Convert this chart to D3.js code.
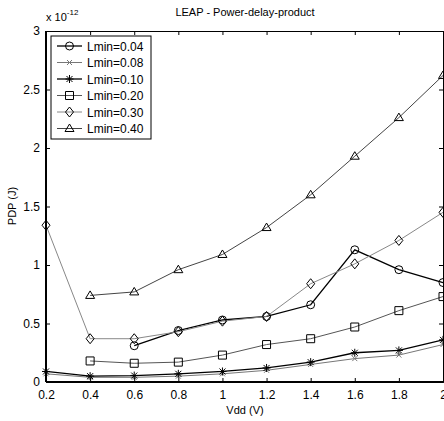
<html>
<script src="https://d3js.org/d3.v7.min.js"></script>
<style>
body { margin: 0; background: white; }
text { font-family: 'Liberation Sans', Arial, sans-serif; }
</style>
<body>
<svg width="444" height="421"></svg>
<script>
// Vdd values (V) and PDP values (x 1e-12 J)
const vdd = [0.2, 0.4, 0.6, 0.8, 1.0, 1.2, 1.4, 1.6, 1.8, 2.0];
const lmin004 = [null, null, 0.31, 0.44, 0.53, 0.56, 0.66, 1.13, 0.96, 0.85];
const lmin008 = [0.07, 0.04, 0.04, 0.05, 0.07, 0.10, 0.15, 0.20, 0.23, 0.32];
const lmin010 = [0.09, 0.05, 0.055, 0.07, 0.09, 0.12, 0.17, 0.25, 0.27, 0.36];
const lmin020 = [null, 0.18, 0.16, 0.17, 0.23, 0.32, 0.37, 0.47, 0.61, 0.73];
const lmin030 = [1.34, 0.37, 0.37, 0.43, 0.52, 0.56, 0.84, 1.01, 1.21, 1.45];
const lmin040 = [null, 0.74, 0.77, 0.96, 1.09, 1.32, 1.60, 1.93, 2.26, 2.62];
const xTicks = [0.2, 0.4, 0.6, 0.8, 1, 1.2, 1.4, 1.6, 1.8, 2];
const yTicks = [0, 0.5, 1, 1.5, 2, 2.5, 3];

const series = [
  {name: "Lmin=0.04", vals: lmin004, marker: "circle", color: "#000", width: 1.3},
  {name: "Lmin=0.08", vals: lmin008, marker: "x", color: "#777", width: 1},
  {name: "Lmin=0.10", vals: lmin010, marker: "star", color: "#000", width: 1.3},
  {name: "Lmin=0.20", vals: lmin020, marker: "square", color: "#555", width: 1},
  {name: "Lmin=0.30", vals: lmin030, marker: "diamond", color: "#888", width: 1},
  {name: "Lmin=0.40", vals: lmin040, marker: "triangle", color: "#444", width: 1}
];

const svg = d3.select("svg");
const mLeft = 46, mRight = 443, mTop = 31, mBottom = 382;

const x = d3.scaleLinear().domain([0.2, 2]).range([mLeft, mRight]);
const y = d3.scaleLinear().domain([0, 3]).range([mBottom, mTop]);

// markers drawn as paths centred at 0,0
function markerPath(type) {
  switch (type) {
    case "circle": return d3.symbol().type(d3.symbolCircle).size(50)();
    case "square": return "M-4,-4H4V4H-4Z";
    case "diamond": return "M0,-5L4,0L0,5L-4,0Z";
    case "triangle": return "M0,-4.5L4.5,3L-4.5,3Z";
    case "x": return "M-2.5,-2.5L2.5,2.5M-2.5,2.5L2.5,-2.5";
    case "star": return "M-3,-3L3,3M-3,3L3,-3M0,-4V4M-4,0H4";
  }
}

const plot = svg.append("g");

series.forEach(s => {
  const pts = vdd.map((v, i) => [v, s.vals[i]]).filter(p => p[1] != null);
  plot.append("path")
    .datum(pts)
    .attr("fill", "none")
    .attr("stroke", s.color)
    .attr("stroke-width", s.width)
    .attr("d", d3.line().x(d => x(d[0])).y(d => y(d[1])));
  plot.selectAll(null)
    .data(pts)
    .enter()
    .append("path")
    .attr("transform", d => "translate(" + x(d[0]) + "," + y(d[1]) + ")")
    .attr("d", markerPath(s.marker))
    .attr("fill", "none")
    .attr("stroke", s.marker == "star" || s.marker == "x" ? s.color : "#000")
    .attr("stroke-width", 1);
});

// axes with inward ticks on all four sides
svg.append("g")
  .attr("transform", "translate(0," + mBottom + ")")
  .call(d3.axisBottom(x).tickValues(xTicks).tickSize(-4).tickPadding(8).tickFormat(d3.format("~g")));
svg.append("g")
  .attr("transform", "translate(" + mLeft + ",0)")
  .call(d3.axisLeft(y).tickValues(yTicks).tickSize(-4).tickPadding(6).tickFormat(d3.format("~g")));
svg.append("g")
  .attr("transform", "translate(0," + mTop + ")")
  .call(d3.axisTop(x).tickValues(xTicks).tickSize(-4).tickFormat(""));
svg.append("g")
  .attr("transform", "translate(" + mRight + ",0)")
  .call(d3.axisRight(y).tickValues(yTicks).tickSize(-4).tickFormat(""));

svg.selectAll(".domain").attr("stroke", "#000").attr("stroke-width", 1);
svg.selectAll(".tick text").style("font-size", "12px").attr("fill", "#000");
svg.selectAll(".tick line").attr("stroke", "#000");

// heavier left and bottom axis lines
svg.append("line").attr("x1", mLeft).attr("x2", mLeft).attr("y1", mTop).attr("y2", mBottom)
  .attr("stroke", "#000").attr("stroke-width", 2);
svg.append("line").attr("x1", mLeft).attr("x2", mRight).attr("y1", mBottom).attr("y2", mBottom)
  .attr("stroke", "#000").attr("stroke-width", 2);

// title and labels
svg.append("text")
  .attr("x", 245).attr("y", 16)
  .attr("text-anchor", "middle")
  .style("font-size", "11px")
  .text("LEAP - Power-delay-product");

const mult = svg.append("text").attr("x", 46).attr("y", 21).style("font-size", "11px");
mult.append("tspan").text("x 10");
mult.append("tspan").attr("dy", -6).style("font-size", "8px").text("-12");

svg.append("text")
  .attr("x", 245).attr("y", 414)
  .attr("text-anchor", "middle")
  .style("font-size", "11px")
  .text("Vdd (V)");

svg.append("text")
  .attr("transform", "translate(16,206) rotate(-90)")
  .attr("text-anchor", "middle")
  .style("font-size", "11px")
  .text("PDP (J)");

// legend
const legend = svg.append("g");
legend.append("rect")
  .attr("x", 51).attr("y", 36).attr("width", 100).attr("height", 103)
  .attr("fill", "white").attr("stroke", "#000").attr("stroke-width", 1);

series.forEach((s, i) => {
  const ly = 46 + i * 16.5;
  legend.append("line")
    .attr("x1", 57).attr("x2", 82).attr("y1", ly).attr("y2", ly)
    .attr("stroke", s.color).attr("stroke-width", s.width);
  legend.append("path")
    .attr("transform", "translate(69.5," + ly + ")")
    .attr("d", markerPath(s.marker))
    .attr("fill", "none")
    .attr("stroke", s.marker == "star" || s.marker == "x" ? s.color : "#000");
  legend.append("text")
    .attr("x", 87).attr("y", ly + 4.5)
    .style("font-size", "12px")
    .text(s.name);
});
</script>
</body>
</html>
